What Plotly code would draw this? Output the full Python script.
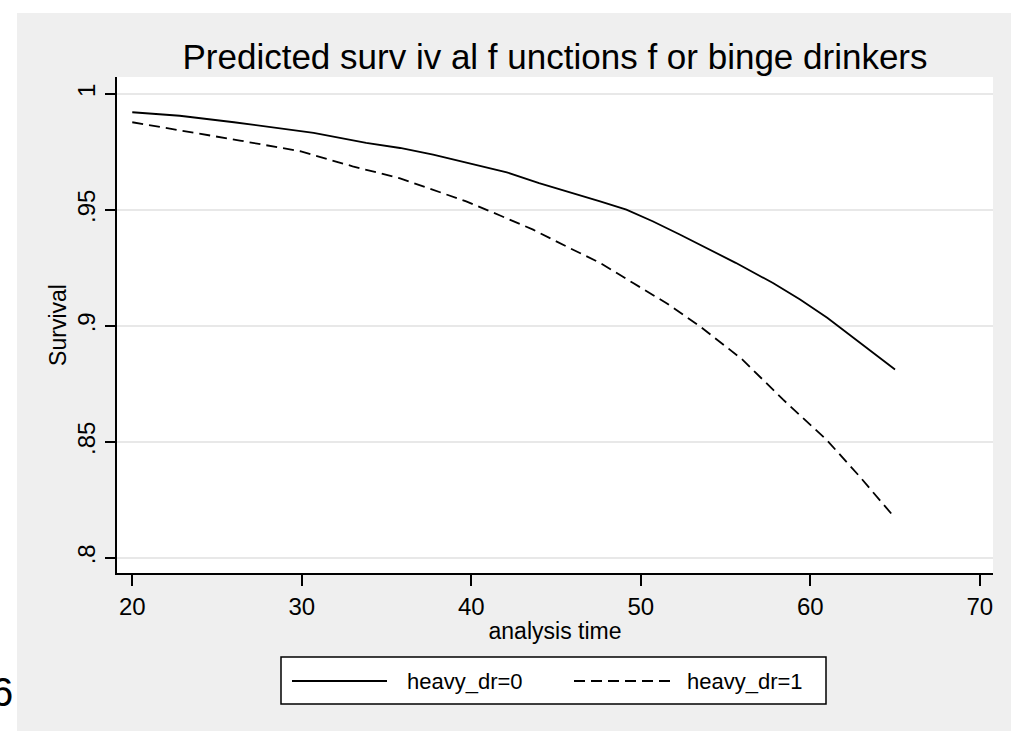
import plotly.graph_objects as go

# ---- data ----
ages_heavy0 = [20.0, 22.8, 26.0, 27.9, 30.7, 33.8, 35.8, 37.75, 39.7, 42.1, 44.0, 46.0,
               47.6, 49.15, 50.7, 52.3, 54.05, 55.6, 57.8, 59.4, 61.0, 63.1, 65.0]
surv_heavy0 = [0.9921, 0.9906, 0.9878, 0.9860, 0.9832, 0.9789, 0.9767, 0.9738, 0.9703,
               0.9662, 0.9616, 0.9573, 0.9537, 0.9501, 0.9451, 0.9394, 0.9329, 0.9272,
               0.9185, 0.9114, 0.9035, 0.8919, 0.8812]
ages_heavy1 = [20.0, 23.2, 26.35, 29.9, 33.0, 35.8, 37.75, 39.7, 41.7, 43.65, 45.6,
               47.6, 49.55, 51.5, 53.5, 56.0, 58.4, 60.95, 62.9, 65.0]
surv_heavy1 = [0.9878, 0.9839, 0.9799, 0.9753, 0.9688, 0.9636, 0.9587, 0.9537, 0.9476,
               0.9415, 0.9343, 0.9272, 0.9185, 0.9099, 0.8998, 0.8855, 0.8682, 0.8510,
               0.8352, 0.8172]
series_names = ["heavy_dr=0", "heavy_dr=1"]
x_ticks = [20, 30, 40, 50, 60, 70]
y_ticks = [0.80, 0.85, 0.90, 0.95, 1.00]
y_tick_text = [".8", ".85", ".9", ".95", "1"]
title_text = "Predicted surv iv al f unctions f or binge drinkers"

W, H = 1011, 731
L, R, T, B = 117, 18, 77, 158
PW, PH = W - L - R, H - T - B

def px(x):
    return (x - L) / PW

def py(y):
    return (H - B - y) / PH

FONT = "Liberation Sans, Arial, sans-serif"
DASH = "11px,6px"

fig = go.Figure()
fig.add_trace(go.Scatter(x=ages_heavy0, y=surv_heavy0, mode="lines", name=series_names[0],
                         line=dict(color="black", width=1.8), showlegend=False))
fig.add_trace(go.Scatter(x=ages_heavy1, y=surv_heavy1, mode="lines", name=series_names[1],
                         line=dict(color="black", width=1.8, dash=DASH), showlegend=False))

shapes = []
# gray outer panel
shapes.append(dict(type="rect", xref="paper", yref="paper", layer="below",
                   x0=px(17), x1=px(1015), y0=py(735), y1=py(13),
                   fillcolor="#efefef", line=dict(width=0)))
# white plot area
shapes.append(dict(type="rect", xref="paper", yref="paper", layer="below",
                   x0=0, x1=1, y0=0, y1=1, fillcolor="white", line=dict(width=0)))
# legend box
shapes.append(dict(type="rect", xref="paper", yref="paper",
                   x0=px(281), x1=px(826), y0=py(704), y1=py(657),
                   fillcolor="white", line=dict(color="black", width=1.5)))
shapes.append(dict(type="line", xref="paper", yref="paper",
                   x0=px(292), x1=px(387), y0=py(681), y1=py(681),
                   line=dict(color="black", width=1.8)))
shapes.append(dict(type="line", xref="paper", yref="paper",
                   x0=px(574), x1=px(670), y0=py(681), y1=py(681),
                   line=dict(color="black", width=1.8, dash=DASH)))

annotations = [
    dict(text=series_names[0], xref="paper", yref="paper", x=px(405), y=py(681),
         xanchor="left", yanchor="middle", showarrow=False,
         font=dict(family=FONT, size=22, color="black")),
    dict(text=series_names[1], xref="paper", yref="paper", x=px(685), y=py(681),
         xanchor="left", yanchor="middle", showarrow=False,
         font=dict(family=FONT, size=22, color="black")),
    dict(text="6", xref="paper", yref="paper", x=px(15), y=py(692),
         xanchor="right", yanchor="middle", showarrow=False,
         font=dict(family=FONT, size=40, color="black")),
]

fig.update_layout(
    width=W, height=H,
    margin=dict(l=L, r=R, t=T, b=B, autoexpand=False),
    paper_bgcolor="white", plot_bgcolor="white",
    title=dict(text=title_text, xref="container", x=555 / W, xanchor="center",
               yref="container", y=1 - 57 / H, yanchor="middle",
               font=dict(family=FONT, size=35, color="black")),
    font=dict(family=FONT, color="black"),
    shapes=shapes, annotations=annotations,
    showlegend=False,
    xaxis=dict(range=[19.1, 70.78], tickvals=x_ticks, ticks="outside", ticklen=11,
               tickwidth=1.5, tickcolor="black", showline=True, linecolor="black",
               linewidth=2, showgrid=False, zeroline=False,
               tickfont=dict(family=FONT, size=24),
               title=dict(text="analysis time", font=dict(family=FONT, size=23), standoff=4)),
    yaxis=dict(range=[0.7935, 1.0073], tickvals=y_ticks, ticktext=y_tick_text,
               tickangle=-90, ticks="outside", ticklen=10, tickwidth=1.5, tickcolor="black",
               showline=True, linecolor="black", linewidth=2,
               showgrid=True, gridcolor="#e8e8e8", gridwidth=1.5, zeroline=False,
               tickfont=dict(family=FONT, size=24),
               title=dict(text="Survival", font=dict(family=FONT, size=23), standoff=0)),
)

fig.write_html("out.html", config={"displayModeBar": False},
               post_script="document.body.style.margin='0';document.body.style.padding='0';")
